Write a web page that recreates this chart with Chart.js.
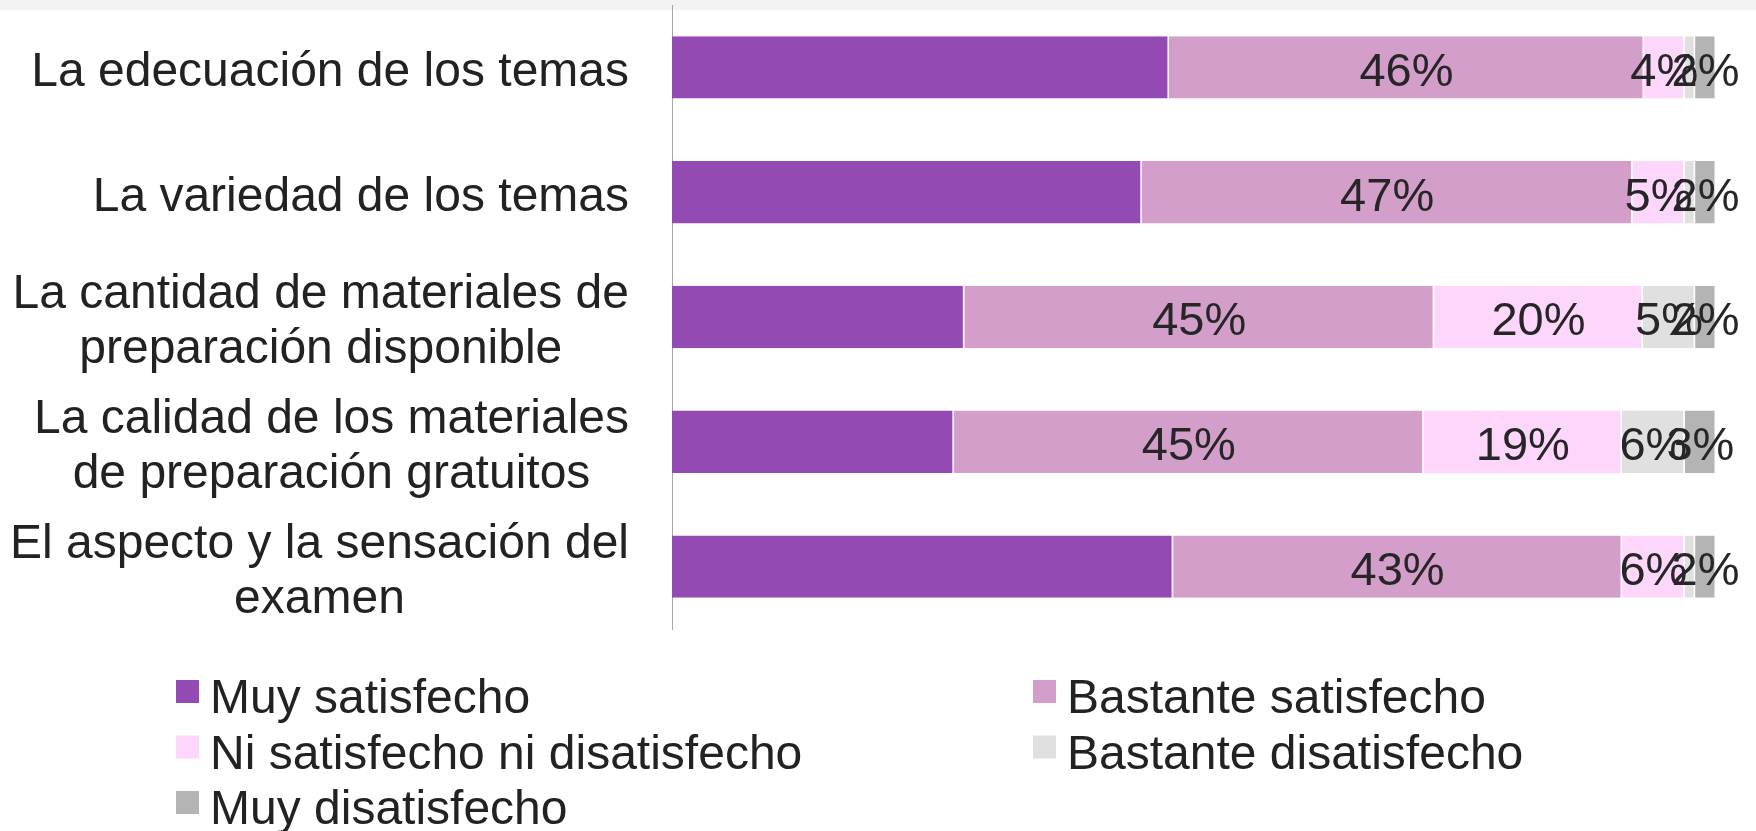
<!DOCTYPE html>
<html>
<head>
<meta charset="utf-8">
<script src="https://cdn.jsdelivr.net/npm/chart.js@4/dist/chart.umd.min.js"></script>
<style>
  html, body { margin: 0; padding: 0; background: #ffffff; }
  #wrap { position: relative; width: 1756px; height: 831px; }
</style>
</head>
<body>
<div id="wrap"><canvas id="c"></canvas></div>
<script>
const categories = [
  "La edecuación de los temas",
  "La variedad de los temas",
  ["La cantidad de materiales de", "preparación disponible"],
  ["La calidad de los materiales", "de preparación gratuitos"],
  ["El aspecto y la sensación del", "examen"]
];
const seriesNames = [
  "Muy satisfecho",
  "Bastante satisfecho",
  "Ni satisfecho ni disatisfecho",
  "Bastante disatisfecho",
  "Muy disatisfecho"
];
const muySatisfecho      = [47.6, 45, 28, 27, 48];
const bastanteSatisfecho = [45.5, 47, 45, 45, 43];
const niSatisfecho       = [3.9, 5, 20, 19, 6];
const bastanteDis        = [1, 1, 5, 6, 1];
const muyDis             = [2, 2, 2, 3, 2];
const seriesColors = ["#934bb3", "#d49ecb", "#fdd6fc", "#e0e0e0", "#b4b4b4"];

const FONT = '"Liberation Sans", Arial, sans-serif';
const TEXT_SIZE = 48;
const VALUE_SIZE = 47;

const seriesValues = [muySatisfecho, bastanteSatisfecho, niSatisfecho, bastanteDis, muyDis];

const customPlugin = {
  id: 'custom',
  beforeDraw(chart) {
    const ctx = chart.ctx;
    ctx.save();
    ctx.fillStyle = '#f4f2f3';
    ctx.fillRect(0, 0, chart.width, 10);
    ctx.restore();
  },
  afterDraw(chart) {
    const ctx = chart.ctx;
    const yScale = chart.scales.y;
    ctx.save();
    // category labels: block right-aligned, lines centered
    ctx.font = TEXT_SIZE + 'px ' + FONT;
    ctx.fillStyle = '#222222';
    const labelRight = yScale.right - 43;
    const lh = 55;
    chart.data.labels.forEach((lab, i) => {
      const lines = Array.isArray(lab) ? lab : [lab];
      const w = Math.max(...lines.map(l => ctx.measureText(l).width));
      const cx = labelRight - w / 2;
      const y = yScale.getPixelForTick(i) + 5.3;
      ctx.textAlign = 'center';
      ctx.textBaseline = 'middle';
      lines.forEach((l, j) => {
        ctx.fillText(l, cx, y + (j - (lines.length - 1) / 2) * lh);
      });
    });
    // data labels (all but first series; tiny segments unlabeled)
    ctx.font = VALUE_SIZE + 'px ' + FONT;
    ctx.fillStyle = '#262626';
    ctx.textAlign = 'center';
    ctx.textBaseline = 'middle';
    chart.data.datasets.forEach((ds, di) => {
      if (di === 0) return;
      const meta = chart.getDatasetMeta(di);
      meta.data.forEach((bar, i) => {
        const v = ds.data[i];
        if (v < 1.5) return;
        const x = (bar.x + bar.base) / 2;
        ctx.fillText(Math.round(v) + '%', x, bar.y + 5.5);
      });
    });
    // legend: two columns
    ctx.font = TEXT_SIZE + 'px ' + FONT;
    const cols = [176, 1033];
    const rows = [713, 768.5, 824];
    ctx.textAlign = 'left';
    ctx.textBaseline = 'alphabetic';
    chart.data.datasets.forEach((ds, di) => {
      const col = di % 2, row = Math.floor(di / 2);
      const bx = cols[col], by = rows[row];
      ctx.fillStyle = ds.backgroundColor;
      ctx.fillRect(bx, by - 33, 23, 23);
      ctx.fillStyle = '#222222';
      ctx.fillText(ds.label, bx + 34, by);
    });
    ctx.restore();
  }
};

new Chart(document.getElementById('c'), {
  type: 'bar',
  data: {
    labels: categories,
    datasets: seriesNames.map((name, k) => ({
      label: name,
      data: seriesValues[k],
      backgroundColor: seriesColors[k],
      borderColor: '#ffffff',
      borderWidth: { left: 0, right: 1.5, top: 0, bottom: 0 },
      borderSkipped: false,
      categoryPercentage: 1,
      barPercentage: 0.5
    }))
  },
  options: {
    indexAxis: 'y',
    responsive: true,
    maintainAspectRatio: false,
    animation: false,
    layout: { padding: { left: 0, right: 40, top: 5, bottom: 202 } },
    plugins: { legend: { display: false }, tooltip: { enabled: false } },
    scales: {
      x: { stacked: true, min: 0, max: 100, display: false },
      y: {
        stacked: true,
        offset: true,
        grid: { display: false },
        border: { display: true, color: '#a6a6a6', width: 1 },
        ticks: { display: false },
        afterFit(scale) { scale.width = 672; }
      }
    }
  },
  plugins: [customPlugin]
});
</script>
</body>
</html>
